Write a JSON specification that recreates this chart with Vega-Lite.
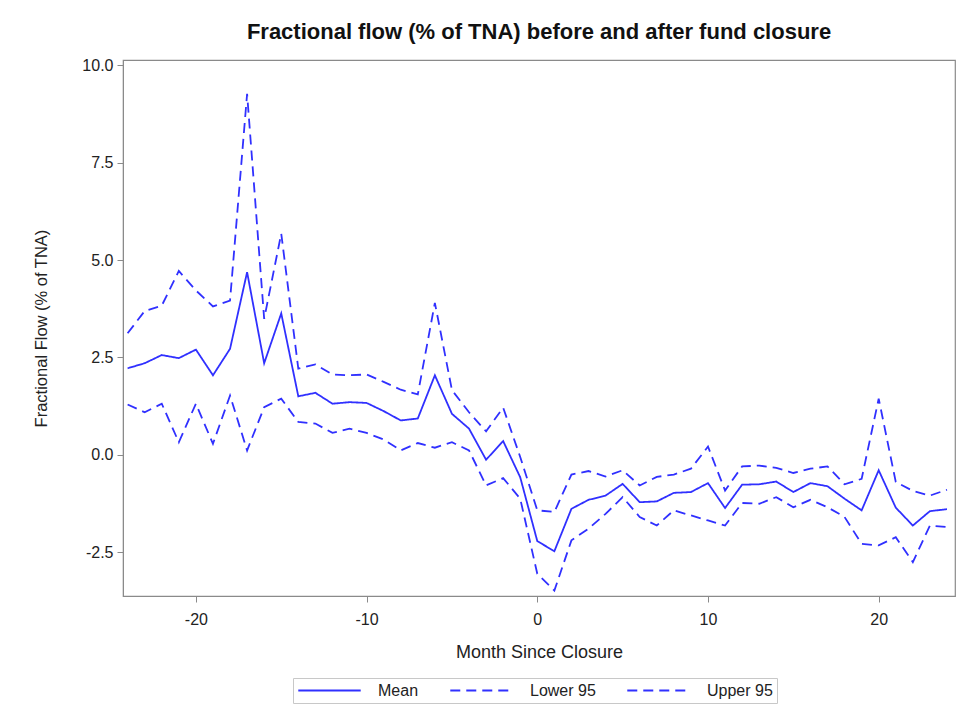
{
  "$schema": "https://vega.github.io/schema/vega-lite/v6.json",
  "autosize": "none",
  "width": 832,
  "height": 536,
  "padding": {"left": 123, "top": 60, "right": 16, "bottom": 125},
  "background": "white",
  "config": {
    "font": "Liberation Sans",
    "view": {"stroke": "#8a8a8a", "strokeWidth": 1.2},
    "axis": {"grid": false, "domainColor": "#8a8a8a", "tickColor": "#8a8a8a", "tickSize": 6, "labelColor": "#222", "titleColor": "#222", "labelFontSize": 16, "titleFontSize": 18, "titleFontWeight": "normal", "labelExpr": "replace(datum.label, '\u2212', '-')"}
  },
  "title": {"text": "Fractional flow (% of TNA) before and after fund closure", "fontSize": 22, "fontWeight": "bold", "color": "#111", "anchor": "middle", "offset": 13},
  "data": {"values": [
    {"month": -24, "Mean": 2.22, "Lower 95": 1.29, "Upper 95": 3.12},
    {"month": -23, "Mean": 2.35, "Lower 95": 1.09, "Upper 95": 3.69},
    {"month": -22, "Mean": 2.56, "Lower 95": 1.31, "Upper 95": 3.83},
    {"month": -21, "Mean": 2.48, "Lower 95": 0.32, "Upper 95": 4.72},
    {"month": -20, "Mean": 2.70, "Lower 95": 1.31, "Upper 95": 4.22},
    {"month": -19, "Mean": 2.04, "Lower 95": 0.28, "Upper 95": 3.81},
    {"month": -18, "Mean": 2.72, "Lower 95": 1.52, "Upper 95": 3.96},
    {"month": -17, "Mean": 4.69, "Lower 95": 0.11, "Upper 95": 9.27},
    {"month": -16, "Mean": 2.35, "Lower 95": 1.22, "Upper 95": 3.49},
    {"month": -15, "Mean": 3.63, "Lower 95": 1.44, "Upper 95": 5.68},
    {"month": -14, "Mean": 1.50, "Lower 95": 0.84, "Upper 95": 2.21},
    {"month": -13, "Mean": 1.59, "Lower 95": 0.80, "Upper 95": 2.32},
    {"month": -12, "Mean": 1.31, "Lower 95": 0.56, "Upper 95": 2.06},
    {"month": -11, "Mean": 1.35, "Lower 95": 0.67, "Upper 95": 2.04},
    {"month": -10, "Mean": 1.33, "Lower 95": 0.56, "Upper 95": 2.06},
    {"month": -9, "Mean": 1.12, "Lower 95": 0.39, "Upper 95": 1.87},
    {"month": -8, "Mean": 0.88, "Lower 95": 0.11, "Upper 95": 1.67},
    {"month": -7, "Mean": 0.93, "Lower 95": 0.30, "Upper 95": 1.55},
    {"month": -6, "Mean": 2.04, "Lower 95": 0.18, "Upper 95": 3.90},
    {"month": -5, "Mean": 1.05, "Lower 95": 0.32, "Upper 95": 1.66},
    {"month": -4, "Mean": 0.67, "Lower 95": 0.11, "Upper 95": 1.09},
    {"month": -3, "Mean": -0.13, "Lower 95": -0.79, "Upper 95": 0.60},
    {"month": -2, "Mean": 0.35, "Lower 95": -0.60, "Upper 95": 1.21},
    {"month": -1, "Mean": -0.58, "Lower 95": -1.13, "Upper 95": -0.06},
    {"month": 0, "Mean": -2.22, "Lower 95": -3.06, "Upper 95": -1.43},
    {"month": 1, "Mean": -2.48, "Lower 95": -3.49, "Upper 95": -1.47},
    {"month": 2, "Mean": -1.39, "Lower 95": -2.20, "Upper 95": -0.51},
    {"month": 3, "Mean": -1.16, "Lower 95": -1.90, "Upper 95": -0.42},
    {"month": 4, "Mean": -1.05, "Lower 95": -1.52, "Upper 95": -0.56},
    {"month": 5, "Mean": -0.75, "Lower 95": -1.09, "Upper 95": -0.40},
    {"month": 6, "Mean": -1.22, "Lower 95": -1.60, "Upper 95": -0.79},
    {"month": 7, "Mean": -1.20, "Lower 95": -1.82, "Upper 95": -0.57},
    {"month": 8, "Mean": -0.98, "Lower 95": -1.43, "Upper 95": -0.51},
    {"month": 9, "Mean": -0.96, "Lower 95": -1.56, "Upper 95": -0.36},
    {"month": 10, "Mean": -0.73, "Lower 95": -1.69, "Upper 95": 0.21},
    {"month": 11, "Mean": -1.37, "Lower 95": -1.82, "Upper 95": -0.92},
    {"month": 12, "Mean": -0.77, "Lower 95": -1.24, "Upper 95": -0.30},
    {"month": 13, "Mean": -0.76, "Lower 95": -1.26, "Upper 95": -0.28},
    {"month": 14, "Mean": -0.69, "Lower 95": -1.09, "Upper 95": -0.34},
    {"month": 15, "Mean": -0.96, "Lower 95": -1.35, "Upper 95": -0.47},
    {"month": 16, "Mean": -0.73, "Lower 95": -1.16, "Upper 95": -0.36},
    {"month": 17, "Mean": -0.81, "Lower 95": -1.35, "Upper 95": -0.30},
    {"month": 18, "Mean": -1.13, "Lower 95": -1.60, "Upper 95": -0.76},
    {"month": 19, "Mean": -1.43, "Lower 95": -2.29, "Upper 95": -0.62},
    {"month": 20, "Mean": -0.40, "Lower 95": -2.33, "Upper 95": 1.44},
    {"month": 21, "Mean": -1.36, "Lower 95": -2.12, "Upper 95": -0.70},
    {"month": 22, "Mean": -1.82, "Lower 95": -2.76, "Upper 95": -0.93},
    {"month": 23, "Mean": -1.45, "Lower 95": -1.82, "Upper 95": -1.05},
    {"month": 24, "Mean": -1.40, "Lower 95": -1.86, "Upper 95": -0.90}
  ]},
  "transform": [{"fold": ["Mean", "Lower 95", "Upper 95"], "as": ["series", "value"]}],
  "mark": {"type": "line", "strokeWidth": 1.8, "clip": true},
  "encoding": {
    "x": {"field": "month", "type": "quantitative", "scale": {"domain": [-24.27, 24.47], "nice": false, "zero": false},
      "axis": {"values": [-20, -10, 0, 10, 20], "title": "Month Since Closure", "labelPadding": 9, "titlePadding": 16}},
    "y": {"field": "value", "type": "quantitative", "scale": {"domain": [-3.63, 10.14], "nice": false, "zero": false},
      "axis": {"values": [-2.5, 0, 2.5, 5, 7.5, 10], "format": ".1f", "title": "Fractional Flow (% of TNA)", "labelPadding": 4, "titlePadding": 32, "titleFontSize": 16.5}},
    "color": {"field": "series", "type": "nominal", "scale": {"domain": ["Mean", "Lower 95", "Upper 95"], "range": ["#3030ff", "#3030ff", "#3030ff"]},
      "legend": {"title": null, "orient": "none", "legendX": 170, "legendY": 618, "direction": "horizontal", "symbolType": "stroke", "symbolSize": 3900, "clipHeight": 17, "symbolStrokeWidth": 2, "labelFontSize": 16, "labelColor": "#222", "strokeColor": "#c8c8c8", "padding": 4, "columnPadding": 30, "labelOffset": 16}},
    "strokeDash": {"field": "series", "type": "nominal", "scale": {"domain": ["Mean", "Lower 95", "Upper 95"], "range": [[1, 0], [10, 6], [10, 6]]},
      "legend": {"title": null, "orient": "none", "legendX": 170, "legendY": 618, "direction": "horizontal", "symbolType": "stroke", "symbolSize": 3900, "clipHeight": 17, "symbolStrokeWidth": 2, "labelFontSize": 16, "labelColor": "#222", "strokeColor": "#c8c8c8", "padding": 4, "columnPadding": 30, "labelOffset": 16}}
  }
}
